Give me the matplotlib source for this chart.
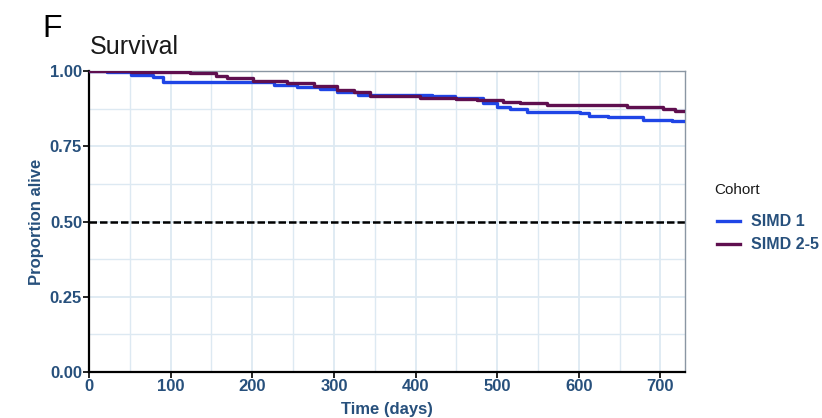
import matplotlib
matplotlib.use("Agg")
import matplotlib.pyplot as plt
from matplotlib.ticker import MultipleLocator

plt.rcParams['font.family'] = ['Liberation Sans', 'DejaVu Sans']

# Kaplan-Meier step data (day, proportion alive)
simd1_days = [0, 22, 52, 78, 91, 226, 255, 283, 304, 330, 420, 448, 483, 500, 516, 536,
              602, 612, 636, 679, 714, 730]
simd1_surv = [1.0, 0.997, 0.988, 0.979, 0.965, 0.953, 0.948, 0.940, 0.931, 0.922, 0.917,
              0.911, 0.895, 0.881, 0.873, 0.865, 0.859, 0.851, 0.846, 0.839, 0.834, 0.834]

simd25_days = [0, 52, 124, 156, 169, 201, 242, 275, 304, 324, 344, 406, 450, 475, 507, 528,
               561, 659, 703, 718, 730]
simd25_surv = [1.0, 0.997, 0.995, 0.984, 0.976, 0.967, 0.959, 0.950, 0.937, 0.929, 0.917,
               0.911, 0.906, 0.903, 0.898, 0.893, 0.887, 0.881, 0.874, 0.868, 0.868]

x_ticks = [0, 100, 200, 300, 400, 500, 600, 700]
y_ticks = [0.0, 0.25, 0.5, 0.75, 1.0]
y_labels = ['0.00', '0.25', '0.50', '0.75', '1.00']

blue = '#1f45e6'
purple = '#5f0f4f'
navy = '#27507c'
grid_col = '#dde9f2'

fig = plt.figure(figsize=(8.22, 4.18), dpi=100)
ax = fig.add_axes([0.1083, 0.110, 0.7250, 0.720])

ax.step(simd1_days, simd1_surv, where='post', color=blue, lw=2.4, label='SIMD 1', zorder=3)
ax.step(simd25_days, simd25_surv, where='post', color=purple, lw=2.4, label='SIMD 2-5', zorder=3)
ax.axhline(0.5, color='black', lw=1.8, ls=(0, (3, 1.2)), zorder=2)

ax.set_xlim(0, 730)
ax.set_ylim(0, 1.0)
ax.set_xticks(x_ticks)
ax.set_yticks(y_ticks)
ax.set_yticklabels(y_labels)
ax.xaxis.set_minor_locator(MultipleLocator(50))
ax.yaxis.set_minor_locator(MultipleLocator(0.125))
ax.grid(True, which='major', color=grid_col, lw=1.3)
ax.grid(True, which='minor', color=grid_col, lw=1.0)
ax.set_axisbelow(True)

for s in ['top', 'right']:
    ax.spines[s].set_color('#8a96a3')
    ax.spines[s].set_linewidth(1.0)
for s in ['left', 'bottom']:
    ax.spines[s].set_color('black')
    ax.spines[s].set_linewidth(1.6)

ax.tick_params(axis='both', which='major', labelsize=12, labelcolor=navy, color='black',
               length=4, width=1.2, pad=1)
ax.tick_params(axis='both', which='minor', length=0)
for lab in ax.get_xticklabels() + ax.get_yticklabels():
    lab.set_fontweight('bold')

ax.set_xlabel('Time (days)', fontsize=12, fontweight='bold', color=navy, labelpad=6)
ax.set_ylabel('Proportion alive', fontsize=12, fontweight='bold', color=navy, labelpad=4)

fig.text(0.109, 0.858, 'Survival', fontsize=18, color='#1a1a1a', ha='left', va='bottom')
fig.text(0.051, 0.895, 'F', fontsize=23, color='black', ha='left', va='bottom')

fig.text(0.869, 0.545, 'Cohort', fontsize=11, color='#1a1a1a', ha='left', va='center')
leg = ax.legend(loc='upper left', bbox_to_anchor=(1.043, 0.545), frameon=False,
                fontsize=11.5, handlelength=1.45, handletextpad=0.7, labelspacing=0.5,
                borderaxespad=0)
for t in leg.get_texts():
    t.set_fontweight('bold')
    t.set_color(navy)

fig.savefig('out.png', dpi=100)
